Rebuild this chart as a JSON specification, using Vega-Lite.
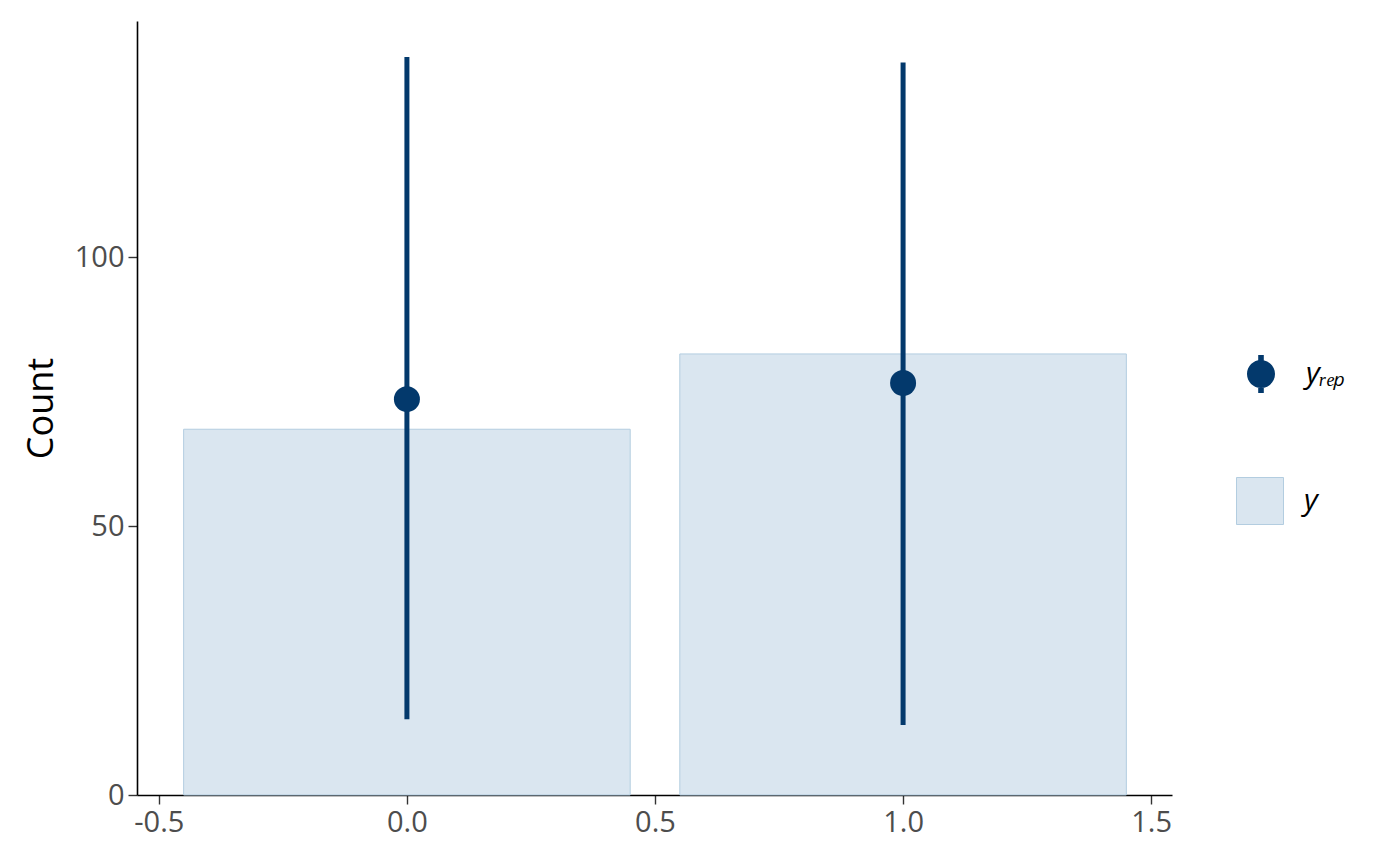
{
  "$schema": "https://vega.github.io/schema/vega-lite/v6.json",
  "width": 1035,
  "height": 774,
  "autosize": "none",
  "padding": {"left": 137, "top": 21, "right": 228, "bottom": 70},
  "config": {
    "view": {"stroke": null},
    "font": "Open Sans",
    "axis": {
      "grid": false,
      "domainColor": "#000000",
      "domainWidth": 1.6,
      "tickColor": "#333333",
      "tickWidth": 1.4,
      "tickSize": 9,
      "labelFontSize": 29,
      "labelColor": "#4d4d4d",
      "labelFont": "Open Sans",
      "titleFont": "Open Sans"
    },
    "legend": {"labelFont": "Open Sans"}
  },
  "datasets": {
    "obs": [
      {"lo": -0.45, "hi": 0.45, "count": 68, "series": "y"},
      {"lo": 0.55, "hi": 1.45, "count": 82, "series": "y"}
    ],
    "rep": [
      {"x": 0, "low": 14.1, "high": 137.2, "mid": 73.6, "series": "yᵣₑₚ"},
      {"x": 1, "low": 13.0, "high": 136.2, "mid": 76.6, "series": "yᵣₑₚ"}
    ]
  },
  "layer": [
    {
      "data": {"name": "obs"},
      "mark": {"type": "bar", "stroke": "#b3cde0", "strokeWidth": 1},
      "encoding": {
        "x": {
          "field": "lo", "type": "quantitative",
          "scale": {"domain": [-0.544, 1.542], "nice": false, "zero": false},
          "axis": {"values": [-0.5, 0, 0.5, 1, 1.5], "labelExpr": "datum.value < 0 ? '-' + format(-datum.value, '.1f') : format(datum.value, '.1f')", "title": null, "labelPadding": 4, "labelFontSize": 29}
        },
        "x2": {"field": "hi"},
        "y": {
          "field": "count", "type": "quantitative",
          "scale": {"domain": [0, 143.9], "nice": false},
          "axis": {"values": [0, 50, 100], "title": "Count", "titleFontSize": 36, "titleColor": "#000000", "titleFontWeight": "normal", "titlePadding": 14, "labelPadding": 4, "labelFontSize": 29}
        },
        "y2": {"datum": 0},
        "fill": {
          "field": "series", "type": "nominal",
          "scale": {"range": ["#dae6f0"]},
          "legend": {
            "title": null, "orient": "none", "legendX": 1099, "legendY": 456,
            "symbolType": "square", "symbolSize": 2209, "symbolStrokeColor": "#b3cde0", "symbolStrokeWidth": 1,
            "labelFontSize": 30, "labelFontStyle": "italic", "labelColor": "#000000", "labelOffset": 20
          }
        }
      }
    },
    {
      "data": {"name": "rep"},
      "mark": {"type": "rule", "color": "#03396c", "strokeWidth": 5},
      "encoding": {
        "x": {"field": "x", "type": "quantitative"},
        "y": {"field": "low", "type": "quantitative"},
        "y2": {"field": "high"}
      }
    },
    {
      "data": {"name": "rep"},
      "mark": {"type": "point", "filled": true, "shape": "circle", "size": 676, "opacity": 1},
      "encoding": {
        "x": {"field": "x", "type": "quantitative"},
        "y": {"field": "mid", "type": "quantitative"},
        "color": {
          "field": "series", "type": "nominal",
          "scale": {"range": ["#03396c"]},
          "legend": {
            "title": null, "orient": "none", "legendX": 1109, "legendY": 338,
            "symbolType": "M-1,0A1,1 0 1,1 1,0A1,1 0 1,1 -1,0Z M-0.2,-1.36H0.2V1.36H-0.2Z",
            "symbolSize": 784, "symbolOpacity": 1,
            "labelFontSize": 30, "labelFontStyle": "italic", "labelColor": "#000000", "labelOffset": 30
          }
        }
      }
    }
  ]
}
